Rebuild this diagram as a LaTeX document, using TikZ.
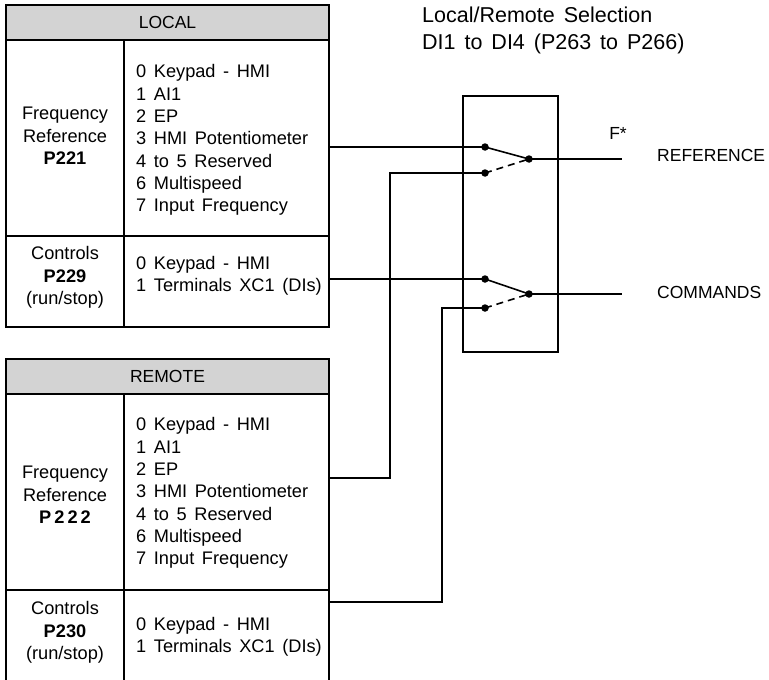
\documentclass[tikz,border=0pt]{standalone}
\usepackage{fontspec}
\setmainfont{Liberation Sans}
\newfontfamily\tabfont{Liberation Sans}[WordSpace=0.8]
\newfontfamily\titlefont{Liberation Sans}[WordSpace=1.5]
\definecolor{headgray}{RGB}{211,211,211}
\begin{document}
\begin{tikzpicture}[x=1pt,y=-1pt,
  frame/.style={line width=1.4pt},
  wire/.style={line width=1.6pt},
  tabtxt/.style={inner sep=0pt,font=\tabfont\fontsize{18.2}{22.3}\selectfont},
  lefttxt/.style={tabtxt,align=center},
  listtxt/.style={tabtxt,align=left,anchor=west},
  headtxt/.style={inner sep=0pt,font=\fontsize{17.5}{21}\selectfont},
  lbltxt/.style={inner sep=0pt,font=\fontsize{17.5}{21}\selectfont},
  contact/.style={circle,fill=black,inner sep=0pt,minimum size=7.5pt}]
\useasboundingbox (0,0) rectangle (769,680);
% ---------- LOCAL table ----------
\fill[headgray] (6,5) rectangle (329,40);
\draw[frame] (6,5) rectangle (329,327);
\draw[frame] (6,40) -- (329,40);
\draw[frame] (6,236) -- (329,236);
\draw[frame] (124,40) -- (124,327);
\node[headtxt] (lochead) at (167.5,22.5) {LOCAL};
\node[lefttxt] (lfl) at (65,136) {Frequency\\Reference\\\textbf{P221}};
\node[listtxt] (lfr) at (136,140) {0 Keypad - HMI\\1 AI1\\2 EP\\3 HMI Potentiometer\\4 to 5 Reserved\\6 Multispeed\\7 Input Frequency};
\node[lefttxt] (lcl) at (65,277.5) {Controls\\\textbf{P229}\\(run/stop)};
\node[listtxt] (lcr) at (136,276) {0 Keypad - HMI\\1 Terminals XC1 (DIs)};
% ---------- REMOTE table ----------
\fill[headgray] (6,359) rectangle (329,394);
\draw[frame] (6,682) -- (6,359) -- (329,359) -- (329,682);
\draw[frame] (6,394) -- (329,394);
\draw[frame] (6,590) -- (329,590);
\draw[frame] (124,394) -- (124,682);
\node[headtxt] (remhead) at (167.5,376.5) {REMOTE};
\node[lefttxt] (rfl) at (65,495) {Frequency\\Reference\\\textbf{P\,2\,2\,2}};
\node[listtxt] (rfr) at (136,493) {0 Keypad - HMI\\1 AI1\\2 EP\\3 HMI Potentiometer\\4 to 5 Reserved\\6 Multispeed\\7 Input Frequency};
\node[lefttxt] (rcl) at (65,632.5) {Controls\\\textbf{P230}\\(run/stop)};
\node[listtxt] (rcr) at (136,636.5) {0 Keypad - HMI\\1 Terminals XC1 (DIs)};
% ---------- selector box ----------
\draw[frame] (463,96) rectangle (558,352);
\node[inner sep=0pt,align=left,anchor=west,font=\titlefont\fontsize{21.5}{27}\selectfont] (title) at (422,30.5) {Local/Remote Selection\\DI1 to DI4 (P263 to P266)};
% contacts
\node[contact] (ra) at (485,147) {};
\node[contact] (rb) at (485,173) {};
\node[contact] (rc) at (529,159) {};
\node[contact] (ca) at (485,279) {};
\node[contact] (cb) at (485,308) {};
\node[contact] (cc) at (529,294) {};
% wire end points
\coordinate (lfo) at (329,147);
\coordinate (lco) at (329,279);
\coordinate (rfo) at (329,478);
\coordinate (rco) at (329,602);
\coordinate (rout) at (622,159);
\coordinate (cout) at (622,294);
% wires
\draw[wire] (lfo) -- (ra.center);
\draw[wire] (lco) -- (ca.center);
\draw[wire] (rfo) -| (390,173) -- (rb.center);
\draw[wire] (rco) -| (442,308) -- (cb.center);
\draw[wire] (ra.center) -- (rc.center);
\draw[wire] (ca.center) -- (cc.center);
\draw[wire,dash pattern=on 7pt off 5pt] (rb.center) -- (rc.center);
\draw[wire,dash pattern=on 7pt off 5pt] (cb.center) -- (cc.center);
\draw[wire] (rc.center) -- (rout);
\draw[wire] (cc.center) -- (cout);
% labels
\node[lbltxt] (fstar) at (618,133) {F*};
\node[lbltxt,anchor=west] (reflbl) at (657,155) {REFERENCE};
\node[lbltxt,anchor=west] (cmdlbl) at (657,292) {COMMANDS};
\end{tikzpicture}
\end{document}
